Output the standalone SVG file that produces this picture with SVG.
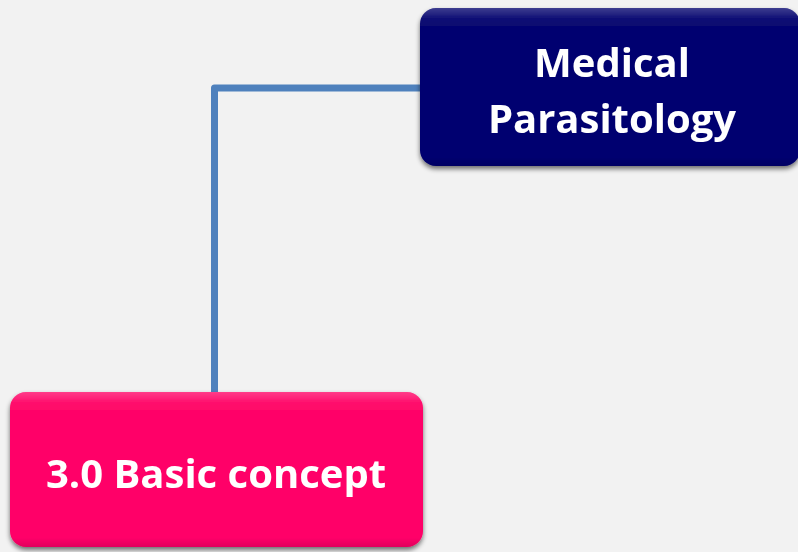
<svg xmlns="http://www.w3.org/2000/svg" width="798" height="552" viewBox="0 0 798 552">
  <style>
    .label { font-family: "Open Sans", "Liberation Sans", sans-serif; font-weight: bold; fill: #ffffff; text-anchor: middle; font-size: 40px; }
    .conn { fill: none; stroke: #4f81bd; stroke-width: 7; stroke-linejoin: round; }
  </style>
  <defs>
    <filter id="shadow" x="-10%" y="-10%" width="120%" height="130%">
      <feGaussianBlur in="SourceAlpha" stdDeviation="2.5"/>
      <feOffset dx="0" dy="3" result="b"/>
      <feComponentTransfer><feFuncA type="linear" slope="0.55"/></feComponentTransfer>
      <feMerge><feMergeNode/><feMergeNode in="SourceGraphic"/></feMerge>
    </filter>
    <linearGradient id="gloss" x1="0" y1="0" x2="0" y2="1">
      <stop offset="0" stop-color="#ffffff" stop-opacity="0.22"/>
      <stop offset="0.07" stop-color="#ffffff" stop-opacity="0.03"/>
      <stop offset="0.12" stop-color="#ffffff" stop-opacity="0"/>
      <stop offset="0.94" stop-color="#000000" stop-opacity="0"/>
      <stop offset="1" stop-color="#000000" stop-opacity="0.12"/>
    </linearGradient>
  </defs>
  <rect width="798" height="552" fill="#f2f2f2"/>

  <g id="connectors">
    <path class="conn" d="M214.5 392 V88 H422"/>
  </g>

  <g id="node-medical-parasitology" filter="url(#shadow)">
    <rect x="420" y="8" width="380" height="158" rx="16" fill="#060670"/>
    <rect x="420" y="8" width="380" height="158" rx="16" fill="url(#gloss)"/>
    <text class="label" x="612" y="77">Medical</text>
    <text class="label" x="612" y="133">Parasitology</text>
  </g>

  <g id="node-basic-concept" filter="url(#shadow)">
    <rect x="10" y="392" width="413" height="155" rx="16" fill="#ff0668"/>
    <rect x="10" y="392" width="413" height="155" rx="16" fill="url(#gloss)"/>
    <text class="label" x="216" y="488">3.0 Basic concept</text>
  </g>
</svg>
